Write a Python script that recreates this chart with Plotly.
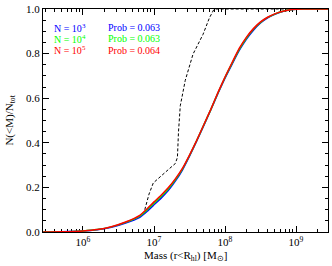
import plotly.graph_objects as go

# log10(Mass) sample points and cumulative fractions
log_mass = [5.44, 5.7, 6.0, 6.2, 6.4, 6.6, 6.8, 6.9, 7.0, 7.1, 7.2, 7.3, 7.4, 7.5,
            7.6, 7.7, 7.8, 7.9, 8.0, 8.1, 8.2, 8.3, 8.4, 8.5, 8.6, 8.7, 8.8,
            8.9, 9.0, 9.1, 9.45]
frac_n1e5 = [0.0, 0.001, 0.005, 0.011, 0.024, 0.045, 0.075, 0.103, 0.135, 0.165, 0.198,
             0.238, 0.285, 0.345, 0.41, 0.48, 0.55, 0.625, 0.695, 0.76, 0.823, 0.873,
             0.912, 0.942, 0.963, 0.978, 0.989, 0.996, 0.999, 1.0, 1.0]
frac_n1e4 = [0.0, 0.001, 0.005, 0.011, 0.023, 0.043, 0.071, 0.098, 0.129, 0.159, 0.193,
             0.234, 0.282, 0.343, 0.409, 0.479, 0.549, 0.623, 0.693, 0.757, 0.819, 0.869,
             0.909, 0.94, 0.962, 0.977, 0.989, 0.996, 0.999, 1.0, 1.0]
frac_n1e3 = [0.0, 0.001, 0.004, 0.01, 0.021, 0.04, 0.066, 0.092, 0.122, 0.152, 0.186,
             0.228, 0.278, 0.34, 0.407, 0.477, 0.548, 0.621, 0.69, 0.753, 0.814, 0.864,
             0.905, 0.937, 0.96, 0.976, 0.988, 0.995, 0.999, 1.0, 1.0]

log_mass_obs = [6.87, 6.93, 6.99, 7.06, 7.13, 7.22, 7.30, 7.33, 7.345, 7.37, 7.44,
                7.55, 7.69, 7.78, 7.84, 7.87, 9.45]
frac_obs = [0.10, 0.17, 0.22, 0.24, 0.263, 0.285, 0.307, 0.335, 0.45, 0.566, 0.68,
            0.798, 0.886, 0.96, 0.996, 1.0, 1.0]

labels_n = ["N = 10<sup>3</sup>", "N = 10<sup>4</sup>", "N = 10<sup>5</sup>"]
labels_p = ["Prob = 0.063", "Prob = 0.063", "Prob = 0.064"]
colors = ["#0000ff", "#00ff00", "#ff0000"]

x_tickvals = [1e6, 1e7, 1e8, 1e9]
x_ticktext = ["10<sup>6</sup>", "10<sup>7</sup>", "10<sup>8</sup>", "10<sup>9</sup>"]
y_tickvals = [0.0, 0.2, 0.4, 0.6, 0.8, 1.0]
y_ticktext = ["0.0", "0.2", "0.4", "0.6", "0.8", "1.0"]

FONT = "Liberation Serif"
L, R, T, B = 43, 3, 4, 34
W, H = 332, 266
PW, PH = W - L - R, H - T - B


def to_mass(lg):
    return [10 ** v for v in lg]


def px_x(px):
    return (px - L) / PW


def px_y(py):
    return 1 - (py - T) / PH


fig = go.Figure()
fig.add_trace(go.Scatter(x=to_mass(log_mass_obs), y=frac_obs, mode="lines",
                         line=dict(color="black", width=1, dash="3px,2px"),
                         showlegend=False))
for ys, c in zip([frac_n1e3, frac_n1e4, frac_n1e5], colors):
    fig.add_trace(go.Scatter(x=to_mass(log_mass), y=ys, mode="lines",
                             line=dict(color=c, width=1.5, shape="spline", smoothing=0.5),
                             showlegend=False))

minor_x = [m * 10 ** d for d in range(5, 10) for m in range(2, 10)]

fig.update_layout(
    width=W, height=H,
    margin=dict(l=L, r=R, t=T, b=B),
    paper_bgcolor="white", plot_bgcolor="white",
    font=dict(family=FONT, size=11, color="black"),
    xaxis=dict(type="log", range=[5.437, 9.45], showgrid=False, zeroline=False,
               showline=True, linecolor="black", linewidth=1, mirror="allticks",
               ticks="inside", ticklen=6, tickcolor="black",
               tickmode="array", tickvals=x_tickvals, ticktext=x_ticktext,
               minor=dict(ticks="inside", ticklen=3, tickcolor="black",
                          tickmode="array", tickvals=minor_x, showgrid=False),
               tickfont=dict(size=11), layer="below traces",
               ticklabeloverflow="allow"),
    yaxis=dict(range=[0, 1], showgrid=False, zeroline=False,
               showline=True, linecolor="black", linewidth=1, mirror="allticks",
               ticks="inside", ticklen=6, tickcolor="black",
               tickmode="array", tickvals=y_tickvals, ticktext=y_ticktext,
               minor=dict(ticks="inside", ticklen=3, tickcolor="black",
                          dtick=0.05, showgrid=False),
               tickfont=dict(size=11), layer="below traces",
               ticklabeloverflow="allow"),
)

# axis titles
fig.add_annotation(text="Mass (r<R<sub>hl</sub>) [M<sub>⊙</sub>]", xref="paper", yref="paper",
                   x=px_x(186), y=px_y(257), xanchor="center", yanchor="middle",
                   showarrow=False, font=dict(size=11, family=FONT))
fig.add_annotation(text="N(<M)/N<sub>tot</sub>", xref="paper", yref="paper",
                   x=px_x(9), y=px_y(118), xanchor="center", yanchor="middle",
                   textangle=-90, showarrow=False, font=dict(size=11, family=FONT))

for i, (ln, lp, c) in enumerate(zip(labels_n, labels_p, colors)):
    yy = 23 + 11.5 * i
    fig.add_annotation(text=ln, xref="paper", yref="paper",
                       x=px_x(52), y=px_y(yy),
                       xanchor="left", yanchor="middle", showarrow=False,
                       font=dict(color=c, size=10, family=FONT))
    fig.add_annotation(text=lp, xref="paper", yref="paper",
                       x=px_x(106), y=px_y(yy),
                       xanchor="left", yanchor="middle", showarrow=False,
                       font=dict(color=c, size=10, family=FONT))

fig.write_html("out.html",
               config={"displayModeBar": False},
               post_script="document.body.style.margin='0px';"
                           "document.body.style.overflow='hidden';")
